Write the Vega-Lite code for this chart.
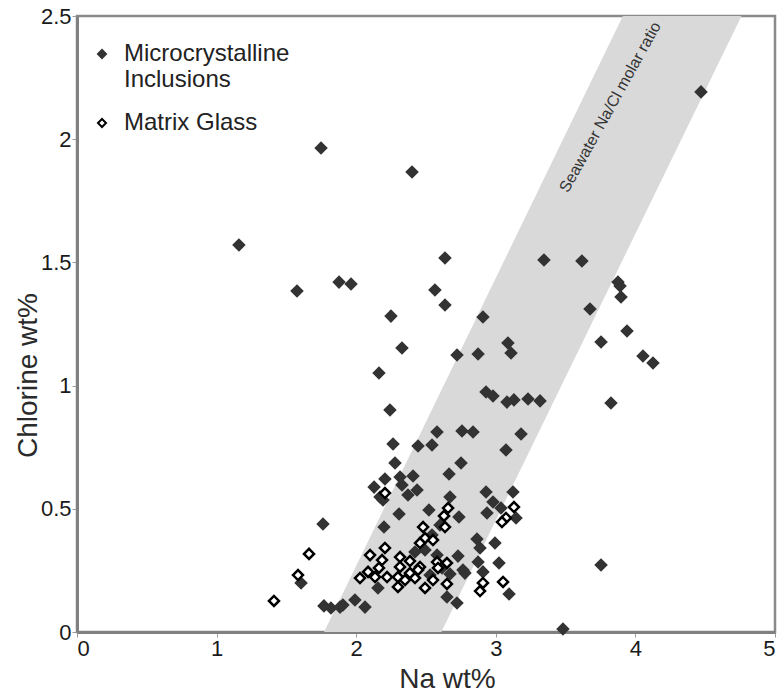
{
  "$schema": "https://vega.github.io/schema/vega-lite/v6.json",
  "width": 698,
  "height": 616,
  "autosize": "none",
  "padding": {"left": 77, "top": 16, "right": 7, "bottom": 61},
  "background": "white",
  "config": {
    "font": "Liberation Sans",
    "view": {"stroke": "#8a8a8a", "strokeWidth": 2.5},
    "axis": {
      "grid": false,
      "domainColor": "#808080",
      "domainWidth": 3,
      "tickColor": "#9a9a9a",
      "tickSize": 5,
      "tickWidth": 1,
      "labelFont": "Liberation Sans",
      "labelFontSize": 22,
      "labelColor": "#1a1a1a",
      "labelPadding": 1,
      "titleFont": "Liberation Sans",
      "titleFontSize": 28,
      "titleFontWeight": "normal",
      "titleColor": "#2a2a2a",
      "titleAlign": "center",
      "titleBaseline": "middle",
      "format": "~g"
    },
    "legend": {
      "orient": "none",
      "legendX": 13,
      "legendY": 26,
      "padding": 0,
      "labelFont": "Liberation Sans",
      "labelFontSize": 24,
      "labelColor": "#222222",
      "labelOffset": 10,
      "labelLimit": 400,
      "symbolSize": 64,
      "symbolStrokeWidth": 2,
      "symbolType": "diamond",
      "rowPadding": 19
    }
  },
  "layer": [
    {
      "data": {"values": [
        {"cl": 0, "na": 1.77, "na2": 2.61},
        {"cl": 2.5, "na": 3.91, "na2": 4.76}
      ]},
      "mark": {"type": "area", "orient": "horizontal", "color": "#d9d9d9"},
      "encoding": {
        "y": {"field": "cl", "type": "quantitative", "scale": {"domain": [0, 2.5], "nice": false, "zero": false},
              "axis": {"values": [0, 0.5, 1, 1.5, 2, 2.5], "title": "Chlorine wt%", "titleX": -49, "titleY": 359}},
        "x": {"field": "na", "type": "quantitative", "scale": {"domain": [0, 5], "nice": false},
              "axis": {"values": [0, 1, 2, 3, 4, 5], "title": "Na wt%", "titleX": 370, "titleY": 47}},
        "x2": {"field": "na2"}
      }
    },
    {
      "data": {"values": [{"note": "Seawater Na/Cl molar ratio"}]},
      "mark": {"type": "text", "angle": 299, "fontSize": 16, "align": "center", "baseline": "middle", "color": "#333333", "font": "Liberation Sans"},
      "encoding": {
        "x": {"datum": 3.82, "type": "quantitative"},
        "y": {"datum": 2.13, "type": "quantitative"},
        "size": {"value": 16},
        "text": {"field": "note"}
      }
    },
    {
      "data": {"values": [
        {"na": 1.160, "cl": 1.571, "g": "Microcrystalline Inclusions"},
        {"na": 1.748, "cl": 1.964, "g": "Microcrystalline Inclusions"},
        {"na": 2.400, "cl": 1.867, "g": "Microcrystalline Inclusions"},
        {"na": 4.470, "cl": 2.192, "g": "Microcrystalline Inclusions"},
        {"na": 1.576, "cl": 1.384, "g": "Microcrystalline Inclusions"},
        {"na": 1.877, "cl": 1.420, "g": "Microcrystalline Inclusions"},
        {"na": 1.963, "cl": 1.412, "g": "Microcrystalline Inclusions"},
        {"na": 2.249, "cl": 1.282, "g": "Microcrystalline Inclusions"},
        {"na": 2.564, "cl": 1.388, "g": "Microcrystalline Inclusions"},
        {"na": 2.636, "cl": 1.518, "g": "Microcrystalline Inclusions"},
        {"na": 2.636, "cl": 1.327, "g": "Microcrystalline Inclusions"},
        {"na": 2.328, "cl": 1.153, "g": "Microcrystalline Inclusions"},
        {"na": 2.163, "cl": 1.051, "g": "Microcrystalline Inclusions"},
        {"na": 2.242, "cl": 0.901, "g": "Microcrystalline Inclusions"},
        {"na": 3.345, "cl": 1.510, "g": "Microcrystalline Inclusions"},
        {"na": 3.617, "cl": 1.506, "g": "Microcrystalline Inclusions"},
        {"na": 3.675, "cl": 1.311, "g": "Microcrystalline Inclusions"},
        {"na": 3.875, "cl": 1.420, "g": "Microcrystalline Inclusions"},
        {"na": 3.890, "cl": 1.404, "g": "Microcrystalline Inclusions"},
        {"na": 3.897, "cl": 1.360, "g": "Microcrystalline Inclusions"},
        {"na": 3.940, "cl": 1.222, "g": "Microcrystalline Inclusions"},
        {"na": 4.054, "cl": 1.120, "g": "Microcrystalline Inclusions"},
        {"na": 4.126, "cl": 1.092, "g": "Microcrystalline Inclusions"},
        {"na": 3.754, "cl": 1.177, "g": "Microcrystalline Inclusions"},
        {"na": 3.825, "cl": 0.929, "g": "Microcrystalline Inclusions"},
        {"na": 3.754, "cl": 0.272, "g": "Microcrystalline Inclusions"},
        {"na": 3.481, "cl": 0.012, "g": "Microcrystalline Inclusions"},
        {"na": 2.908, "cl": 1.278, "g": "Microcrystalline Inclusions"},
        {"na": 2.722, "cl": 1.124, "g": "Microcrystalline Inclusions"},
        {"na": 2.873, "cl": 1.128, "g": "Microcrystalline Inclusions"},
        {"na": 3.087, "cl": 1.173, "g": "Microcrystalline Inclusions"},
        {"na": 3.109, "cl": 1.132, "g": "Microcrystalline Inclusions"},
        {"na": 2.930, "cl": 0.974, "g": "Microcrystalline Inclusions"},
        {"na": 2.980, "cl": 0.958, "g": "Microcrystalline Inclusions"},
        {"na": 3.080, "cl": 0.933, "g": "Microcrystalline Inclusions"},
        {"na": 3.130, "cl": 0.942, "g": "Microcrystalline Inclusions"},
        {"na": 3.231, "cl": 0.946, "g": "Microcrystalline Inclusions"},
        {"na": 3.317, "cl": 0.938, "g": "Microcrystalline Inclusions"},
        {"na": 3.181, "cl": 0.804, "g": "Microcrystalline Inclusions"},
        {"na": 3.073, "cl": 0.739, "g": "Microcrystalline Inclusions"},
        {"na": 2.579, "cl": 0.812, "g": "Microcrystalline Inclusions"},
        {"na": 2.758, "cl": 0.816, "g": "Microcrystalline Inclusions"},
        {"na": 2.837, "cl": 0.812, "g": "Microcrystalline Inclusions"},
        {"na": 2.264, "cl": 0.763, "g": "Microcrystalline Inclusions"},
        {"na": 2.443, "cl": 0.755, "g": "Microcrystalline Inclusions"},
        {"na": 2.543, "cl": 0.759, "g": "Microcrystalline Inclusions"},
        {"na": 2.278, "cl": 0.686, "g": "Microcrystalline Inclusions"},
        {"na": 2.751, "cl": 0.686, "g": "Microcrystalline Inclusions"},
        {"na": 2.665, "cl": 0.641, "g": "Microcrystalline Inclusions"},
        {"na": 2.407, "cl": 0.633, "g": "Microcrystalline Inclusions"},
        {"na": 2.314, "cl": 0.629, "g": "Microcrystalline Inclusions"},
        {"na": 2.206, "cl": 0.621, "g": "Microcrystalline Inclusions"},
        {"na": 2.128, "cl": 0.588, "g": "Microcrystalline Inclusions"},
        {"na": 2.171, "cl": 0.548, "g": "Microcrystalline Inclusions"},
        {"na": 2.192, "cl": 0.536, "g": "Microcrystalline Inclusions"},
        {"na": 2.328, "cl": 0.597, "g": "Microcrystalline Inclusions"},
        {"na": 2.436, "cl": 0.576, "g": "Microcrystalline Inclusions"},
        {"na": 2.371, "cl": 0.556, "g": "Microcrystalline Inclusions"},
        {"na": 2.672, "cl": 0.548, "g": "Microcrystalline Inclusions"},
        {"na": 2.930, "cl": 0.568, "g": "Microcrystalline Inclusions"},
        {"na": 3.123, "cl": 0.568, "g": "Microcrystalline Inclusions"},
        {"na": 2.980, "cl": 0.528, "g": "Microcrystalline Inclusions"},
        {"na": 2.937, "cl": 0.483, "g": "Microcrystalline Inclusions"},
        {"na": 3.037, "cl": 0.503, "g": "Microcrystalline Inclusions"},
        {"na": 3.145, "cl": 0.463, "g": "Microcrystalline Inclusions"},
        {"na": 2.736, "cl": 0.467, "g": "Microcrystalline Inclusions"},
        {"na": 2.521, "cl": 0.495, "g": "Microcrystalline Inclusions"},
        {"na": 2.307, "cl": 0.479, "g": "Microcrystalline Inclusions"},
        {"na": 2.199, "cl": 0.426, "g": "Microcrystalline Inclusions"},
        {"na": 2.600, "cl": 0.434, "g": "Microcrystalline Inclusions"},
        {"na": 2.543, "cl": 0.394, "g": "Microcrystalline Inclusions"},
        {"na": 2.865, "cl": 0.377, "g": "Microcrystalline Inclusions"},
        {"na": 2.887, "cl": 0.341, "g": "Microcrystalline Inclusions"},
        {"na": 2.994, "cl": 0.361, "g": "Microcrystalline Inclusions"},
        {"na": 2.493, "cl": 0.333, "g": "Microcrystalline Inclusions"},
        {"na": 2.421, "cl": 0.325, "g": "Microcrystalline Inclusions"},
        {"na": 2.579, "cl": 0.312, "g": "Microcrystalline Inclusions"},
        {"na": 2.729, "cl": 0.308, "g": "Microcrystalline Inclusions"},
        {"na": 2.615, "cl": 0.260, "g": "Microcrystalline Inclusions"},
        {"na": 2.672, "cl": 0.235, "g": "Microcrystalline Inclusions"},
        {"na": 2.765, "cl": 0.252, "g": "Microcrystalline Inclusions"},
        {"na": 2.873, "cl": 0.284, "g": "Microcrystalline Inclusions"},
        {"na": 3.023, "cl": 0.280, "g": "Microcrystalline Inclusions"},
        {"na": 2.908, "cl": 0.244, "g": "Microcrystalline Inclusions"},
        {"na": 2.779, "cl": 0.239, "g": "Microcrystalline Inclusions"},
        {"na": 2.529, "cl": 0.231, "g": "Microcrystalline Inclusions"},
        {"na": 2.156, "cl": 0.179, "g": "Microcrystalline Inclusions"},
        {"na": 2.650, "cl": 0.142, "g": "Microcrystalline Inclusions"},
        {"na": 2.722, "cl": 0.118, "g": "Microcrystalline Inclusions"},
        {"na": 3.095, "cl": 0.154, "g": "Microcrystalline Inclusions"},
        {"na": 1.991, "cl": 0.130, "g": "Microcrystalline Inclusions"},
        {"na": 2.063, "cl": 0.101, "g": "Microcrystalline Inclusions"},
        {"na": 1.905, "cl": 0.110, "g": "Microcrystalline Inclusions"},
        {"na": 1.769, "cl": 0.106, "g": "Microcrystalline Inclusions"},
        {"na": 1.819, "cl": 0.097, "g": "Microcrystalline Inclusions"},
        {"na": 1.884, "cl": 0.101, "g": "Microcrystalline Inclusions"},
        {"na": 1.762, "cl": 0.438, "g": "Microcrystalline Inclusions"},
        {"na": 1.605, "cl": 0.199, "g": "Microcrystalline Inclusions"},
        {"na": 1.411, "cl": 0.126, "g": "Matrix Glass"},
        {"na": 1.583, "cl": 0.231, "g": "Matrix Glass"},
        {"na": 1.662, "cl": 0.317, "g": "Matrix Glass"},
        {"na": 2.206, "cl": 0.564, "g": "Matrix Glass"},
        {"na": 2.658, "cl": 0.503, "g": "Matrix Glass"},
        {"na": 2.629, "cl": 0.471, "g": "Matrix Glass"},
        {"na": 2.636, "cl": 0.426, "g": "Matrix Glass"},
        {"na": 2.479, "cl": 0.426, "g": "Matrix Glass"},
        {"na": 2.493, "cl": 0.381, "g": "Matrix Glass"},
        {"na": 2.457, "cl": 0.361, "g": "Matrix Glass"},
        {"na": 2.550, "cl": 0.373, "g": "Matrix Glass"},
        {"na": 2.099, "cl": 0.312, "g": "Matrix Glass"},
        {"na": 2.206, "cl": 0.341, "g": "Matrix Glass"},
        {"na": 2.314, "cl": 0.304, "g": "Matrix Glass"},
        {"na": 2.185, "cl": 0.292, "g": "Matrix Glass"},
        {"na": 2.385, "cl": 0.288, "g": "Matrix Glass"},
        {"na": 2.457, "cl": 0.264, "g": "Matrix Glass"},
        {"na": 2.650, "cl": 0.280, "g": "Matrix Glass"},
        {"na": 2.579, "cl": 0.284, "g": "Matrix Glass"},
        {"na": 2.027, "cl": 0.219, "g": "Matrix Glass"},
        {"na": 2.085, "cl": 0.244, "g": "Matrix Glass"},
        {"na": 2.135, "cl": 0.223, "g": "Matrix Glass"},
        {"na": 2.163, "cl": 0.260, "g": "Matrix Glass"},
        {"na": 2.221, "cl": 0.223, "g": "Matrix Glass"},
        {"na": 2.314, "cl": 0.264, "g": "Matrix Glass"},
        {"na": 2.299, "cl": 0.223, "g": "Matrix Glass"},
        {"na": 2.385, "cl": 0.239, "g": "Matrix Glass"},
        {"na": 2.421, "cl": 0.219, "g": "Matrix Glass"},
        {"na": 2.350, "cl": 0.211, "g": "Matrix Glass"},
        {"na": 2.443, "cl": 0.252, "g": "Matrix Glass"},
        {"na": 2.550, "cl": 0.211, "g": "Matrix Glass"},
        {"na": 2.299, "cl": 0.183, "g": "Matrix Glass"},
        {"na": 2.493, "cl": 0.179, "g": "Matrix Glass"},
        {"na": 2.586, "cl": 0.260, "g": "Matrix Glass"},
        {"na": 2.650, "cl": 0.195, "g": "Matrix Glass"},
        {"na": 3.130, "cl": 0.507, "g": "Matrix Glass"},
        {"na": 3.073, "cl": 0.463, "g": "Matrix Glass"},
        {"na": 3.044, "cl": 0.446, "g": "Matrix Glass"},
        {"na": 2.908, "cl": 0.199, "g": "Matrix Glass"},
        {"na": 2.887, "cl": 0.166, "g": "Matrix Glass"},
        {"na": 3.052, "cl": 0.203, "g": "Matrix Glass"}
      ]},
      "mark": {"type": "point", "shape": "diamond", "size": 100, "strokeWidth": 2.5, "opacity": 1, "filled": false},
      "encoding": {
        "x": {"field": "na", "type": "quantitative"},
        "y": {"field": "cl", "type": "quantitative"},
        "fill": {"field": "g", "type": "nominal",
                 "scale": {"domain": ["Microcrystalline Inclusions", "Matrix Glass"], "range": ["#333333", "#ffffff"]},
                 "legend": {"title": null,
                            "labelExpr": "datum.label == 'Microcrystalline Inclusions' ? ['Microcrystalline', 'Inclusions'] : datum.label"}},
        "stroke": {"field": "g", "type": "nominal",
                   "scale": {"domain": ["Microcrystalline Inclusions", "Matrix Glass"], "range": ["#333333", "#000000"]},
                   "legend": {"title": null,
                              "labelExpr": "datum.label == 'Microcrystalline Inclusions' ? ['Microcrystalline', 'Inclusions'] : datum.label"}}
      }
    }
  ]
}
